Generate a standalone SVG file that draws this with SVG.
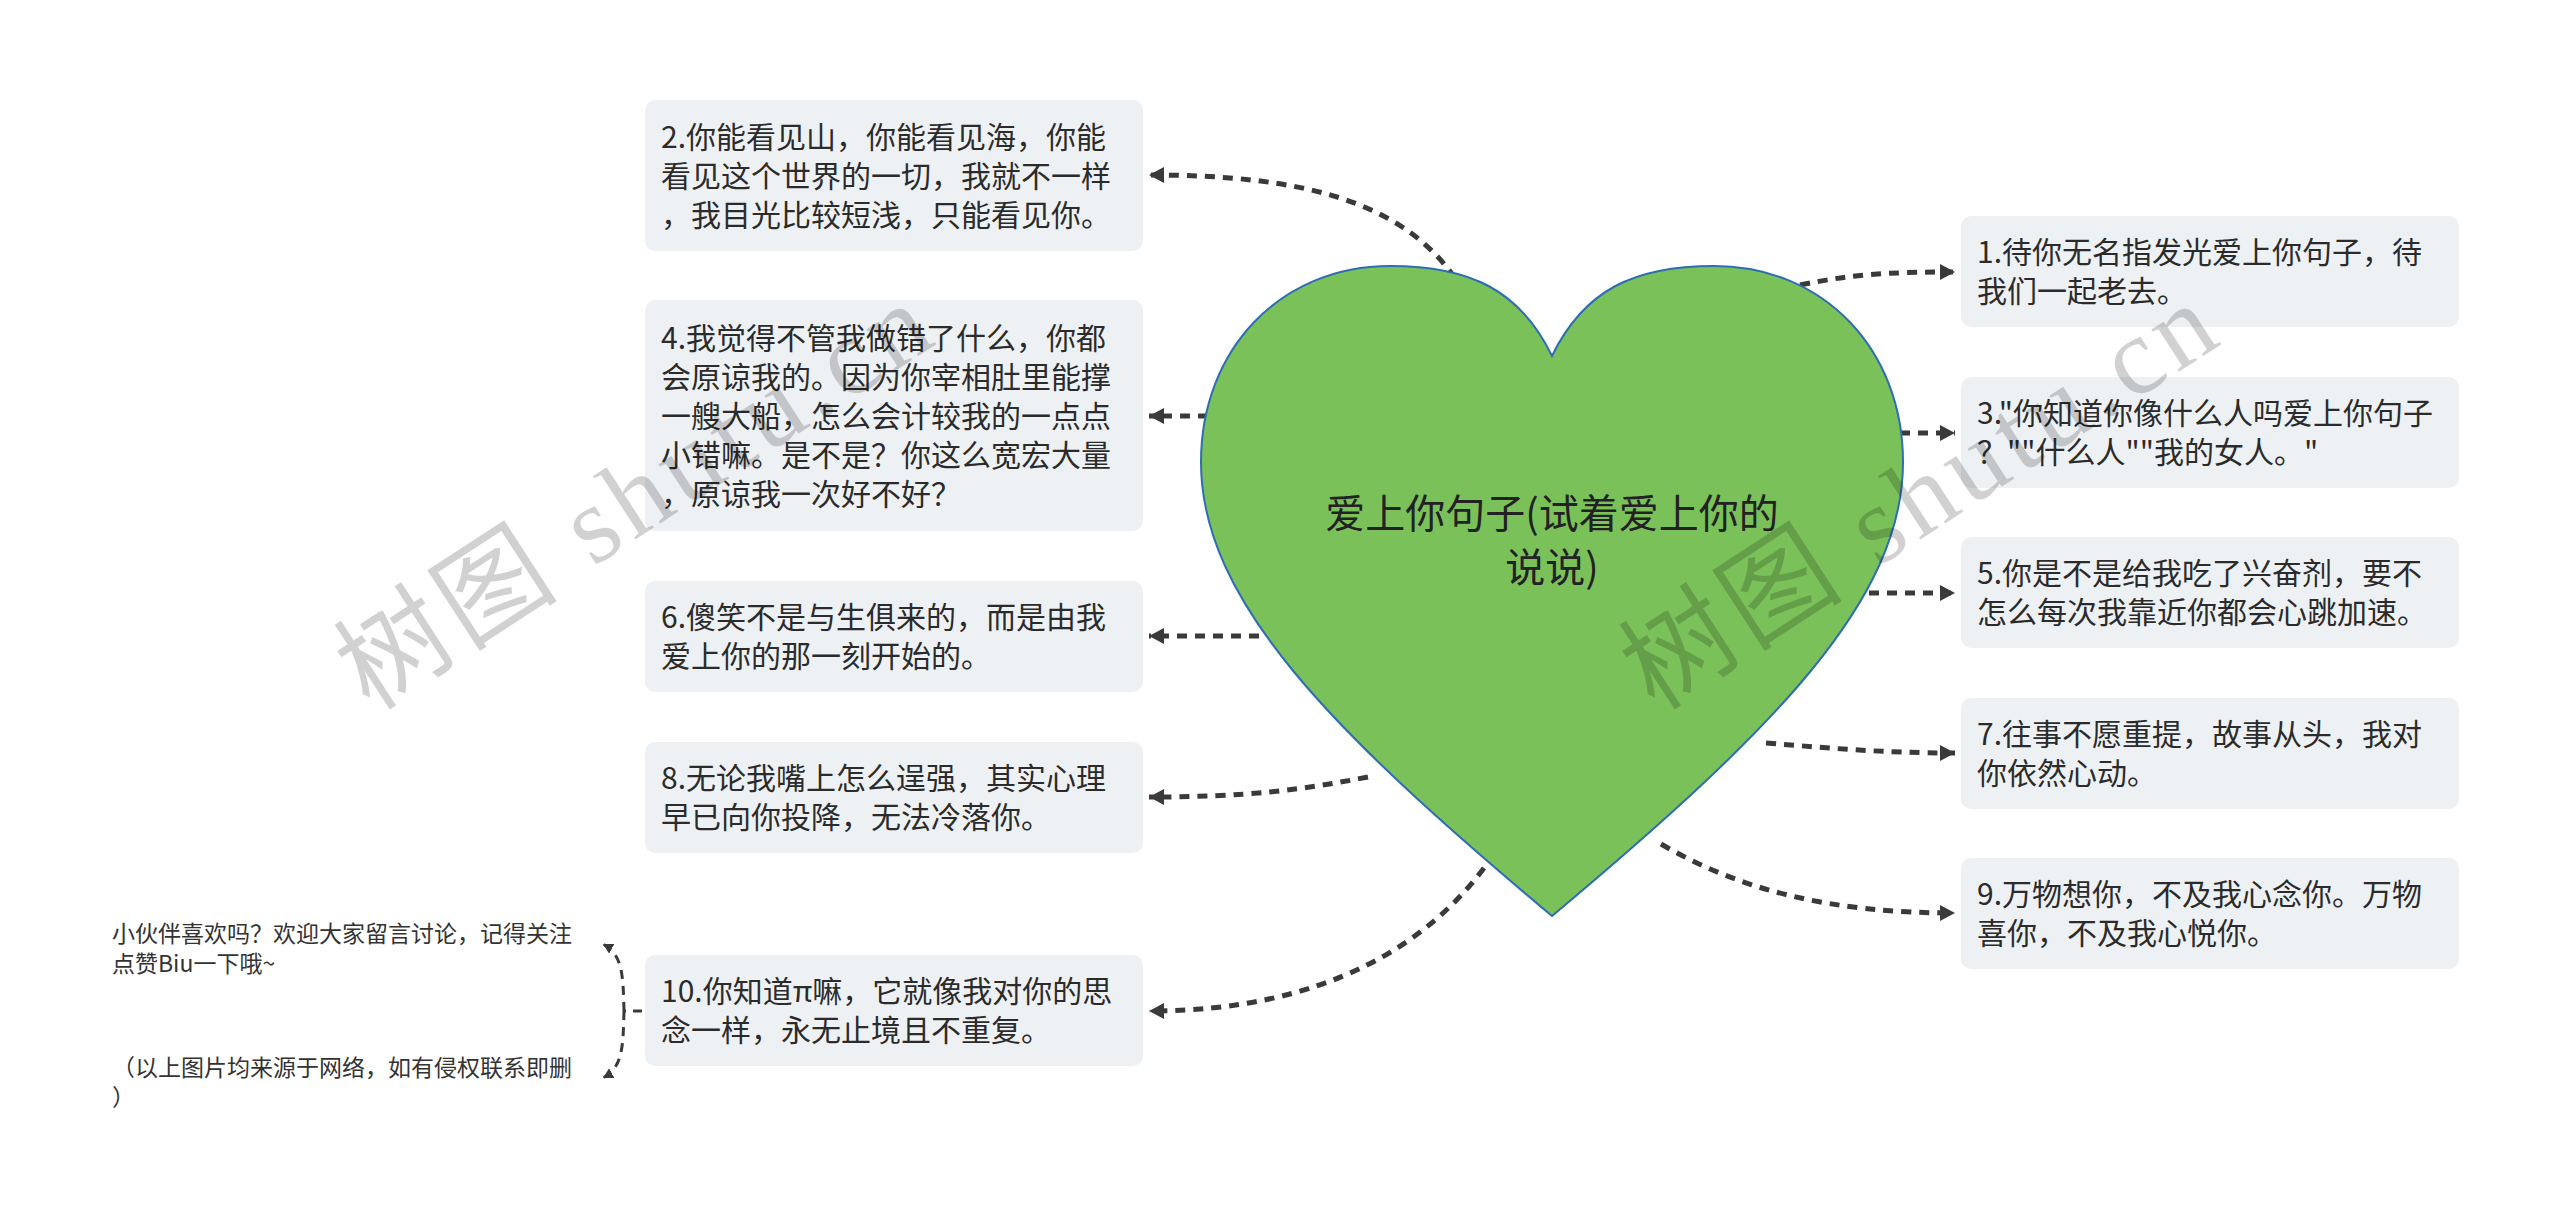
<svg xmlns="http://www.w3.org/2000/svg" width="2560" height="1220" viewBox="0 0 2560 1220">
<defs>
<style>
.box{fill:#EEF1F4;}
.t{font-family:"Noto Sans CJK SC","Noto Sans",sans-serif;font-size:30px;fill:#2b2b2b;}
.ht{font-family:"Noto Sans CJK SC","Noto Sans",sans-serif;font-size:40px;fill:#222;text-anchor:middle;}
.note{font-family:"Noto Sans CJK SC","Noto Sans",sans-serif;font-size:23px;fill:#333;}
.c{fill:none;stroke:#3a3a3a;stroke-width:5;stroke-dasharray:10 8;marker-end:url(#arr);}
.cs{fill:none;stroke:#3a3a3a;stroke-width:3;stroke-dasharray:9 7;}
.wm{font-family:"Liberation Serif","Noto Sans CJK SC",serif;font-size:110px;fill:#000;fill-opacity:0.18;letter-spacing:6px;}
</style>
<marker id="arr" markerUnits="userSpaceOnUse" markerWidth="18" markerHeight="18" refX="15" refY="8" orient="auto"><path d="M0,0 L15,8 L0,16 Z" fill="#3a3a3a"/></marker>
<marker id="arrs" markerUnits="userSpaceOnUse" markerWidth="12" markerHeight="12" refX="10" refY="5.5" orient="auto"><path d="M0,0 L10,5.5 L0,11 Z" fill="#3a3a3a"/></marker>
</defs>
<rect width="2560" height="1220" fill="#fff"/>

<g id="connectors">
<path class="c" d="M1455 278 C1400 200 1300 175 1149 175"/>
<path class="c" d="M1208 416 L1149 416"/>
<path class="c" d="M1259 636 L1149 636"/>
<path class="c" d="M1368 777 C1300 790 1250 797 1149 797"/>
<path class="c" d="M1484 868 C1430 940 1330 1011 1149 1011"/>
<path class="c" d="M1800 285 C1850 275 1880 272 1955 272"/>
<path class="c" d="M1900 433 L1955 433"/>
<path class="c" d="M1869 593 L1955 593"/>
<path class="c" d="M1766 743 C1830 748 1880 753 1955 753"/>
<path class="c" d="M1661 844 C1740 890 1830 913 1955 913"/>
<path class="cs" d="M642 1011 L624 1011"/>
<path class="cs" marker-end="url(#arrs)" d="M624 1011 C623 975 623 955 603 944"/>
<path class="cs" marker-end="url(#arrs)" d="M624 1011 C623 1047 623 1067 603 1078"/>
</g>

<g id="root">
<path d="M1552 356 C1520 290 1470 266 1390 266 C1280 266 1201 350 1201 462 C1201 600 1330 730 1552 916 C1774 730 1903 600 1903 462 C1903 350 1824 266 1714 266 C1634 266 1584 290 1552 356 Z" fill="#7BC15A" stroke="#2E6DB4" stroke-width="2"/>
<text class="ht" x="1552" y="528">爱上你句子(试着爱上你的</text>
<text class="ht" x="1552" y="582">说说)</text>
</g>

<g id="n2"><rect class="box" x="645" y="100" width="498" height="151" rx="10"/>
<text class="t" x="661" y="147.5">2.你能看见山，你能看见海，你能</text>
<text class="t" x="661" y="186.5">看见这个世界的一切，我就不一样</text>
<text class="t" x="661" y="225.5">，我目光比较短浅，只能看见你。</text></g>

<g id="n4"><rect class="box" x="645" y="300" width="498" height="231" rx="10"/>
<text class="t" x="661" y="348.5">4.我觉得不管我做错了什么，你都</text>
<text class="t" x="661" y="387.5">会原谅我的。因为你宰相肚里能撑</text>
<text class="t" x="661" y="426.5">一艘大船，怎么会计较我的一点点</text>
<text class="t" x="661" y="465.5">小错嘛。是不是？你这么宽宏大量</text>
<text class="t" x="661" y="504.5">，原谅我一次好不好？</text></g>

<g id="n6"><rect class="box" x="645" y="581" width="498" height="111" rx="10"/>
<text class="t" x="661" y="628">6.傻笑不是与生俱来的，而是由我</text>
<text class="t" x="661" y="667">爱上你的那一刻开始的。</text></g>

<g id="n8"><rect class="box" x="645" y="742" width="498" height="111" rx="10"/>
<text class="t" x="661" y="789">8.无论我嘴上怎么逞强，其实心理</text>
<text class="t" x="661" y="828">早已向你投降，无法冷落你。</text></g>

<g id="n10"><rect class="box" x="645" y="955" width="498" height="111" rx="10"/>
<text class="t" x="661" y="1002">10.你知道π嘛，它就像我对你的思</text>
<text class="t" x="661" y="1041">念一样，永无止境且不重复。</text></g>

<g id="n1"><rect class="box" x="1961" y="216" width="498" height="111" rx="10"/>
<text class="t" x="1977" y="263">1.待你无名指发光爱上你句子，待</text>
<text class="t" x="1977" y="302">我们一起老去。</text></g>

<g id="n3"><rect class="box" x="1961" y="377" width="498" height="111" rx="10"/>
<text class="t" x="1977" y="424">3."你知道你像什么人吗爱上你句子</text>
<text class="t" x="1977" y="463">？""什么人""我的女人。"</text></g>

<g id="n5"><rect class="box" x="1961" y="537" width="498" height="111" rx="10"/>
<text class="t" x="1977" y="584">5.你是不是给我吃了兴奋剂，要不</text>
<text class="t" x="1977" y="623">怎么每次我靠近你都会心跳加速。</text></g>

<g id="n7"><rect class="box" x="1961" y="698" width="498" height="111" rx="10"/>
<text class="t" x="1977" y="745">7.往事不愿重提，故事从头，我对</text>
<text class="t" x="1977" y="784">你依然心动。</text></g>

<g id="n9"><rect class="box" x="1961" y="858" width="498" height="111" rx="10"/>
<text class="t" x="1977" y="905">9.万物想你，不及我心念你。万物</text>
<text class="t" x="1977" y="944">喜你，不及我心悦你。</text></g>

<g id="note1">
<text class="note" x="112" y="941.5">小伙伴喜欢吗？欢迎大家留言讨论，记得关注</text>
<text class="note" x="112" y="971.5">点赞Biu一下哦~</text></g>

<g id="note2">
<text class="note" x="112" y="1075.5">（以上图片均来源于网络，如有侵权联系即删</text>
<text class="note" x="112" y="1105.5">）</text></g>

<g id="watermark">
<text class="wm" transform="translate(370,712) rotate(-33)">树图 shutu.cn</text>
<text class="wm" transform="translate(1655,712) rotate(-33)">树图 shutu.cn</text>
</g>
</svg>
